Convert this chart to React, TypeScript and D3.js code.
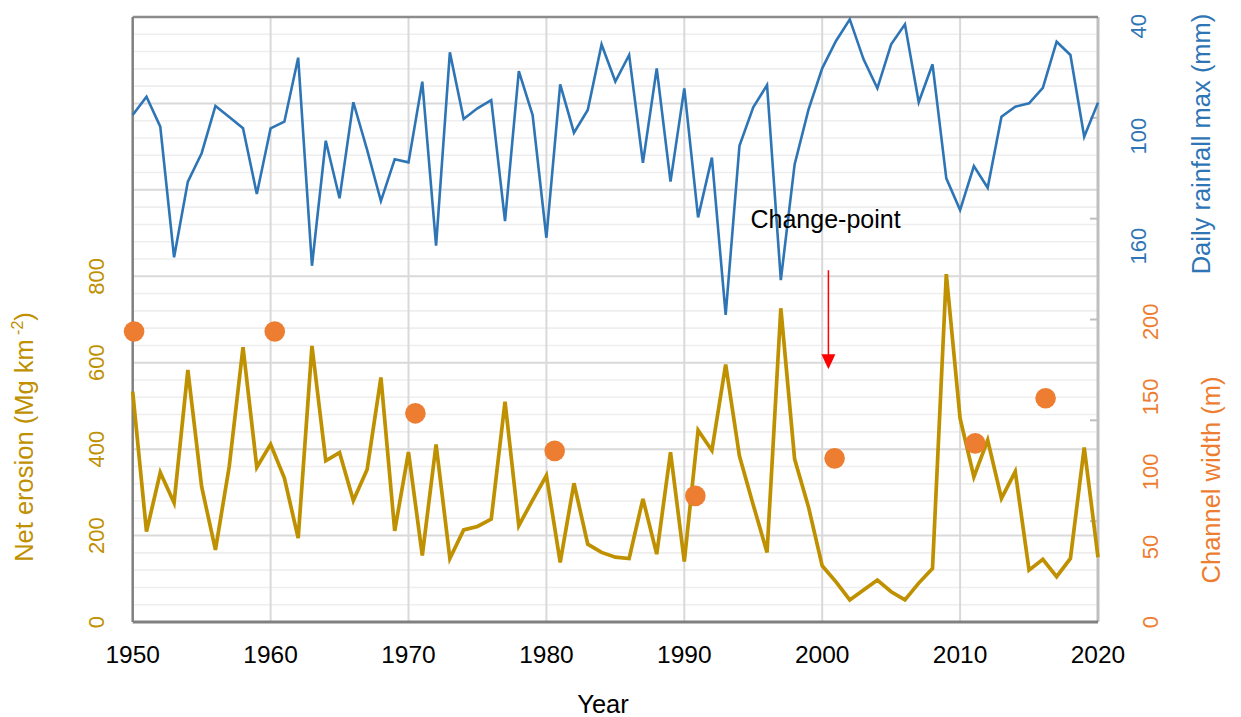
import React from "react";
import * as d3 from "d3";

// ---------- data ----------
const years = [
  1950, 1951, 1952, 1953, 1954, 1955, 1956, 1957, 1958, 1959,
  1960, 1961, 1962, 1963, 1964, 1965, 1966, 1967, 1968, 1969,
  1970, 1971, 1972, 1973, 1974, 1975, 1976, 1977, 1978, 1979,
  1980, 1981, 1982, 1983, 1984, 1985, 1986, 1987, 1988, 1989,
  1990, 1991, 1992, 1993, 1994, 1995, 1996, 1997, 1998, 1999,
  2000, 2001, 2002, 2003, 2004, 2005, 2006, 2007, 2008, 2009,
  2010, 2011, 2012, 2013, 2014, 2015, 2016, 2017, 2018, 2019, 2020,
];

// Daily rainfall max (mm)
const rainfall = [
  88.5, 78.5, 94.8, 166.1, 124.8, 109.3, 83.5, 89.5, 95.7, 131.5,
  95.7, 92.1, 57.2, 170.7, 102.5, 133.9, 81.5, 107.5, 135.4, 112.6,
  114.3, 70.3, 159.7, 54.3, 90.6, 84.8, 80.3, 146.3, 64.5, 88.5,
  155.4, 71.7, 98.1, 85.7, 50.0, 70.2, 55.7, 114.5, 63.0, 124.8,
  73.9, 144.3, 111.7, 197.5, 105.2, 84.3, 72.1, 178.5, 115.4, 85.7,
  63.0, 48.1, 36.3, 58.1, 73.9, 49.9, 39.0, 81.5, 60.8, 123.0,
  140.3, 116.3, 128.1, 89.4, 83.9, 82.1, 73.6, 48.5, 55.7, 100.3, 81.7,
];

// Net erosion (Mg km-2)
const erosion = [
  533, 209, 346, 276, 583, 313, 167, 360, 636, 358,
  411, 333, 194, 639, 373, 392, 281, 353, 566, 211,
  393, 154, 411, 147, 213, 221, 238, 510, 223, 282,
  339, 138, 321, 180, 161, 150, 147, 285, 157, 393,
  140, 444, 397, 596, 384, 271, 161, 726, 377, 267,
  130, 93, 51, 74, 97, 70, 51, 90, 124, 805,
  471, 336, 421, 286, 348, 120, 145, 105, 147, 404, 150,
];

// Channel width (m)
const widthYears = [1950.1, 1960.3, 1970.5, 1980.6, 1990.8, 2000.9, 2011.1, 2016.2];
const widthValues = [193.5, 193.5, 139, 114, 84, 109, 119, 149];

// tick labels
const xTicks = [1950, 1960, 1970, 1980, 1990, 2000, 2010, 2020];
const erosionTicks = [0, 200, 400, 600, 800];
const rainTicks = [40, 100, 160];
const widthTicks = [0, 50, 100, 150, 200];

const changePointYear = 2000.45;

// ---------- layout ----------
const W = 1241;
const H = 717;
const L = 132.7;
const R = 1098;
const T = 17;
const B = 622;

const FONT = "'Liberation Sans', Arial, Helvetica, sans-serif";
const GOLD = "#BF9000";
const BLUE = "#2E75B6";
const ORANGE = "#ED7D31";

export default function App() {
  const x = d3.scaleLinear().domain([1950, 2020]).range([L, R]);
  const yE = d3.scaleLinear().domain([0, 1400]).range([B, T]);
  const yR = d3.scaleLinear().domain([35, 365]).range([T, B]);
  const yW = d3.scaleLinear().domain([0, 403]).range([B, T]);
  const yTickR = d3.scaleLinear().domain([0, 6]).range([B, T]);

  const minorGrid = d3.range(0, 1401, 40).filter((v) => v % 200 !== 0);
  const majorGrid = d3.range(200, 1400, 200);

  const rainLine = d3
    .line<number>()
    .x((_, i) => x(years[i]))
    .y((d) => yR(d));
  const erosionLine = d3
    .line<number>()
    .x((_, i) => x(years[i]))
    .y((d) => yE(d));

  const ax = x(changePointYear);
  const arrowTop = yE(814);
  const arrowTip = yE(585);
  const headLen = 15;

  return (
    <svg
      width={W}
      height={H}
      style={{ position: "absolute", left: 0, top: 0, background: "#fff" }}
      fontFamily={FONT}
    >
      {/* minor grid */}
      {minorGrid.map((v) => (
        <line key={"mi" + v} x1={L} x2={R} y1={yE(v)} y2={yE(v)} stroke="#EEEEEE" strokeWidth={1.6} />
      ))}
      {/* major grid */}
      {majorGrid.map((v) => (
        <line key={"ma" + v} x1={L} x2={R} y1={yE(v)} y2={yE(v)} stroke="#D9D9D9" strokeWidth={2} />
      ))}
      {xTicks.slice(1, -1).map((v) => (
        <line key={"vx" + v} x1={x(v)} x2={x(v)} y1={T} y2={B} stroke="#D9D9D9" strokeWidth={2} />
      ))}

      {/* right tick marks */}
      {d3.range(1, 6).map((i) => (
        <line key={"rt" + i} x1={R - 8} x2={R} y1={yTickR(i)} y2={yTickR(i)} stroke="#BFBFBF" strokeWidth={2} />
      ))}

      {/* border */}
      <line x1={R} x2={R} y1={T} y2={B} stroke="#BFBFBF" strokeWidth={3} />
      <line x1={L} x2={R} y1={T} y2={T} stroke="#8C8C8C" strokeWidth={2.5} />
      <line x1={L} x2={L} y1={T} y2={B} stroke="#808080" strokeWidth={2.5} />
      <line x1={L} x2={R} y1={B} y2={B} stroke="#808080" strokeWidth={3} />

      {/* rainfall */}
      <path d={rainLine(rainfall) || ""} fill="none" stroke={BLUE} strokeWidth={2.6} strokeLinejoin="miter" />
      {/* erosion */}
      <path d={erosionLine(erosion) || ""} fill="none" stroke={GOLD} strokeWidth={3.7} strokeLinejoin="miter" />

      {/* channel width */}
      {widthValues.map((v, i) => (
        <circle key={"w" + i} cx={x(widthYears[i])} cy={yW(v)} r={10.3} fill={ORANGE} />
      ))}

      {/* change point arrow */}
      <line x1={ax} x2={ax} y1={arrowTop} y2={arrowTip - headLen + 1} stroke="#FF0000" strokeWidth={1.5} />
      <path
        d={`M${ax - 7},${arrowTip - headLen} L${ax + 7},${arrowTip - headLen} L${ax},${arrowTip} Z`}
        fill="#FF0000"
      />
      <text x={x(1994.8)} y={228} fontSize={25} fill="#000">
        Change-point
      </text>

      {/* x axis labels */}
      {xTicks.map((v) => (
        <text key={"xl" + v} x={x(v)} y={663} fontSize={24.5} textAnchor="middle" fill="#000">
          {v}
        </text>
      ))}
      <text x={603} y={713} fontSize={25.5} textAnchor="middle" fill="#000">
        Year
      </text>

      {/* left axis labels */}
      {erosionTicks.map((v) => (
        <text
          key={"el" + v}
          transform={`translate(104,${yE(v)}) rotate(-90)`}
          fontSize={22}
          textAnchor="middle"
          fill={GOLD}
        >
          {v}
        </text>
      ))}
      <text transform={`translate(33,437) rotate(-90)`} fontSize={25.5} textAnchor="middle" fill={GOLD}>
        Net erosion (Mg km
        <tspan fontSize={16} dy={-10}>
          {" "}-2
        </tspan>
        <tspan dy={10}>)</tspan>
      </text>

      {/* right blue axis labels */}
      {rainTicks.map((v) => (
        <text
          key={"rl" + v}
          transform={`translate(1146,${yR(v)}) rotate(-90)`}
          fontSize={22}
          textAnchor="middle"
          fill={BLUE}
        >
          {v}
        </text>
      ))}
      <text transform={`translate(1210,144) rotate(-90)`} fontSize={25.5} textAnchor="middle" fill={BLUE}>
        Daily rainfall max (mm)
      </text>

      {/* right orange axis labels */}
      {widthTicks.map((v) => (
        <text
          key={"wl" + v}
          transform={`translate(1158,${yW(v)}) rotate(-90)`}
          fontSize={22}
          textAnchor="middle"
          fill={ORANGE}
        >
          {v}
        </text>
      ))}
      <text transform={`translate(1220,480) rotate(-90)`} fontSize={25.5} textAnchor="middle" fill={ORANGE}>
        Channel width (m)
      </text>
    </svg>
  );
}
